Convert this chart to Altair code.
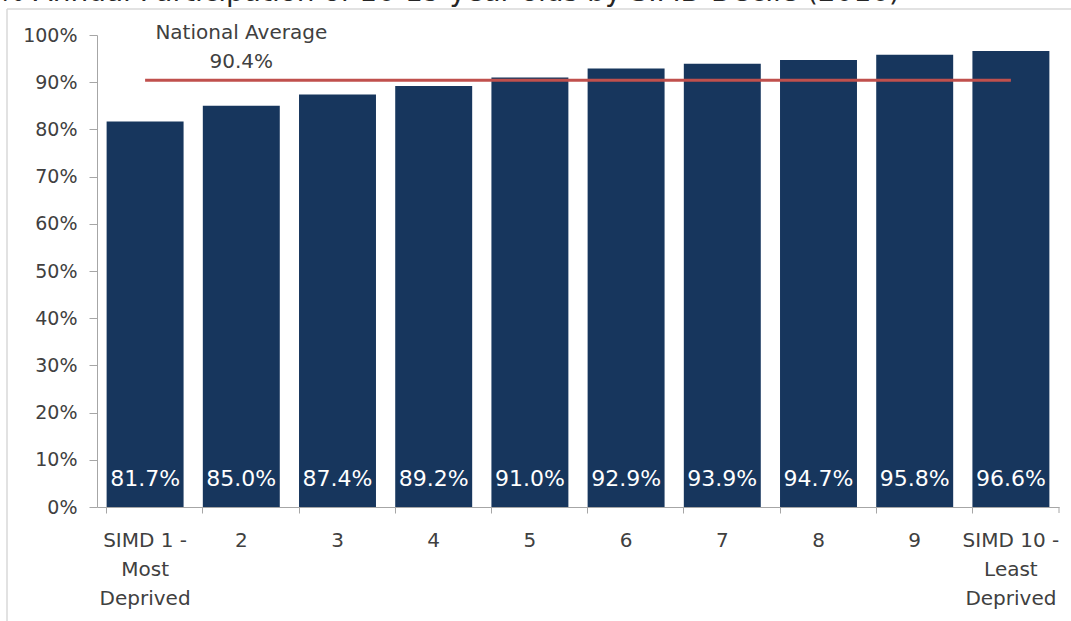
import altair as alt
import pandas as pd

# Participation by SIMD decile
categories = [
    "SIMD 1 -|Most|Deprived", "2", "3", "4", "5",
    "6", "7", "8", "9", "SIMD 10 -|Least|Deprived",
]
participation = [81.7, 85.0, 87.4, 89.2, 91.0, 92.9, 93.9, 94.7, 95.8, 96.6]
national_average = 90.4
title_text = "% Annual Participation of 16-19 year olds by SIMD Decile (2016)"
y_ticks = [0, 10, 20, 30, 40, 50, 60, 70, 80, 90, 100]

W, H = 962, 472
FONT = "DejaVu Sans"
TEXT_COLOR = "#404040"
AXIS_COLOR = "#a6a6a6"
BAR_COLOR = "#17365d"
LINE_COLOR = "#c0504d"

bars_df = pd.DataFrame({"cat": categories, "value": participation})
avg_df = pd.DataFrame({
    "start": [categories[0]],
    "end": [categories[-1]],
    "label_cat": [categories[1]],
    "value": [national_average],
})
one_row = pd.DataFrame({"t": [title_text]})

x_scale = alt.Scale(domain=categories, paddingInner=0.2, paddingOuter=0.1)
y_scale = alt.Scale(domain=[0, 100], nice=False, zero=True)

x_axis = alt.Axis(
    title=None, labelAngle=0, bandPosition=0,
    labelExpr="split(datum.value, '|')", labelLineHeight=29,
    labelFont=FONT, labelFontSize=20, labelColor=TEXT_COLOR,
    labelPadding=17, tickSize=6, tickColor=AXIS_COLOR, domainColor=AXIS_COLOR,
    grid=False,
)
y_axis = alt.Axis(
    title=None, values=y_ticks, labelExpr="datum.value + '%'",
    labelFont=FONT, labelFontSize=19, labelColor=TEXT_COLOR,
    labelPadding=12, tickSize=8, tickColor=AXIS_COLOR, domainColor=AXIS_COLOR,
    grid=False,
)

bars = alt.Chart(bars_df).mark_bar(color=BAR_COLOR).encode(
    x=alt.X("cat:N", scale=x_scale, axis=x_axis, sort=categories),
    y=alt.Y("value:Q", scale=y_scale, axis=y_axis),
)

bar_labels = alt.Chart(bars_df).transform_calculate(
    label="format(datum.value, '.1f') + '%'"
).mark_text(
    font=FONT, fontSize=22, color="white", baseline="middle", align="center", dy=-28
).encode(
    x=alt.X("cat:N", scale=x_scale, sort=categories),
    y=alt.datum(0),
    text="label:N",
)

avg_line = alt.Chart(avg_df).mark_rule(color=LINE_COLOR, strokeWidth=3).encode(
    x=alt.X("start:N", scale=x_scale, sort=categories),
    x2="end:N",
    y=alt.Y("value:Q", scale=y_scale),
)

avg_label = alt.Chart(avg_df).transform_calculate(
    lines="['National Average', format(datum.value, '.1f') + '%']"
).mark_text(
    font=FONT, fontSize=20, color=TEXT_COLOR, align="center",
    baseline="alphabetic", lineHeight=29, dy=-41,
).encode(
    x=alt.X("label_cat:N", scale=x_scale, sort=categories),
    y=alt.Y("value:Q", scale=y_scale),
    text="lines:N",
)

title = alt.Chart(one_row).mark_text(
    font=FONT, fontSize=28, color="#262626", align="left", baseline="alphabetic"
).encode(x=alt.value(-99), y=alt.value(-34), text="t:N")

# Frame around the chart area (top and left edges)
frame_top = alt.Chart(one_row).mark_rule(color="#d9d9d9", strokeWidth=1.5).encode(
    x=alt.value(-90), x2=alt.value(W + 20), y=alt.value(-26)
)
frame_left = alt.Chart(one_row).mark_rule(color="#d9d9d9", strokeWidth=1.5).encode(
    x=alt.value(-90), y=alt.value(-26), y2=alt.value(H + 120)
)
# closing tick at the right end of the category axis
end_tick = alt.Chart(one_row).mark_rule(color=AXIS_COLOR).encode(
    x=alt.value(W), y=alt.value(H), y2=alt.value(H + 6)
)

chart = alt.layer(
    frame_top, frame_left, bars, bar_labels, avg_line, avg_label, title, end_tick
).properties(
    width=W, height=H,
    autosize=alt.AutoSizeParams(type="none"),
    padding={"left": 97, "top": 35, "right": 12, "bottom": 114},
    background="white",
).configure_view(stroke=None)

chart.save("out.html", embed_options={"renderer": "svg", "actions": False})
